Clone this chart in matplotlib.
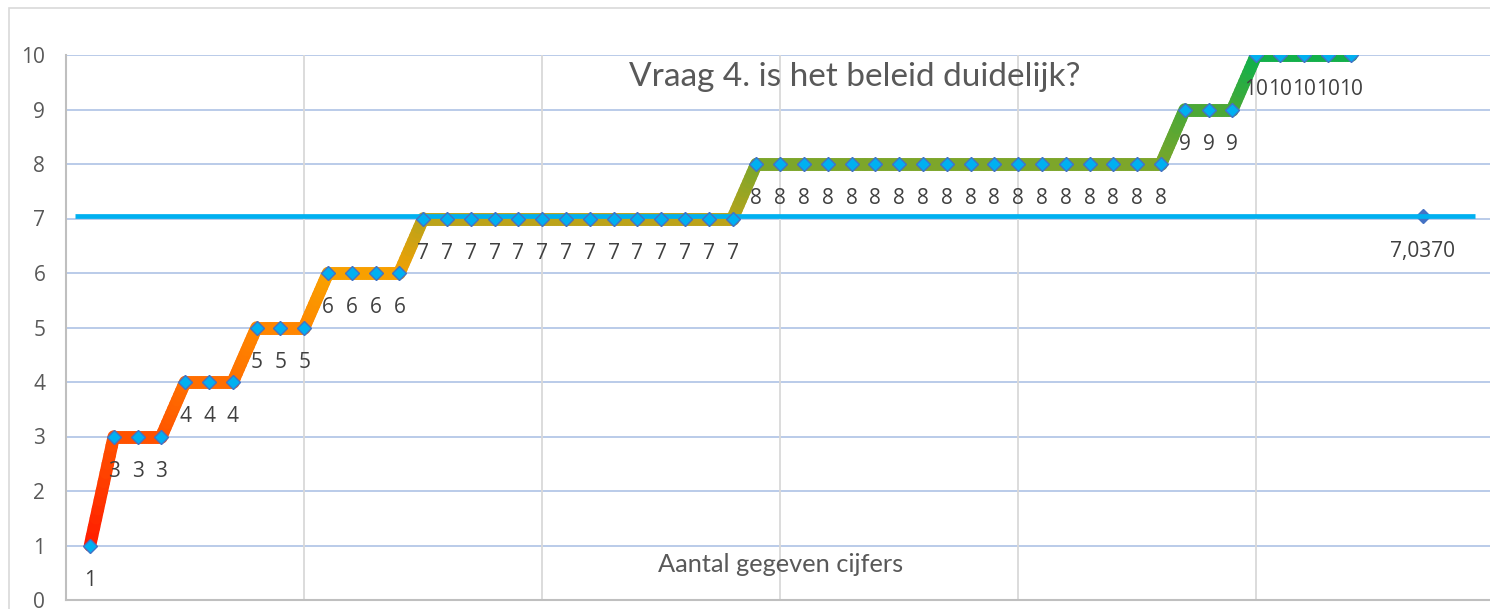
import numpy as np
import matplotlib
matplotlib.use("Agg")
import matplotlib.pyplot as plt
from matplotlib.collections import LineCollection
from matplotlib.colors import LinearSegmentedColormap, to_rgb
from matplotlib.patches import Rectangle

# ---- data ----
values = [1, 3, 3, 3, 4, 4, 4, 5, 5, 5, 6, 6, 6, 6,
          7, 7, 7, 7, 7, 7, 7, 7, 7, 7, 7, 7, 7, 7,
          8, 8, 8, 8, 8, 8, 8, 8, 8, 8, 8, 8, 8, 8, 8, 8, 8, 8,
          9, 9, 9,
          10, 10, 10, 10, 10]
x_pos = list(range(1, len(values) + 1))
avg_value = 380 / 54          # 7,0370
avg_x = 57
avg_line_x = [0.37, 59.2]
title = "Vraag 4. is het beleid duidelijk?"
xlabel = "Aantal gegeven cijfers"
y_ticks = list(range(0, 11))

# ---- figure ----
W, H, DPI = 1490, 609, 100
fig = plt.figure(figsize=(W / DPI, H / DPI), dpi=DPI)
fig.patch.set_facecolor("white")

# outer chart border
fig.patches.append(Rectangle((9 / W, -0.1), 1.2, (609 - 8) / H + 0.1,
                             transform=fig.transFigure, fill=False,
                             edgecolor="#D9D9D9", linewidth=1.2))

ax_left, ax_bottom = 66.2 / W, 9 / H
ax = fig.add_axes([ax_left, ax_bottom, 1 - ax_left, 545 / H])
ax.set_xlim(0, (W - 66.2) / 23.8)
ax.set_ylim(0, 10)

# gridlines
for y in y_ticks[1:]:
    ax.axhline(y, color="#B4C7E7", linewidth=1.3, zorder=0)
for xv in range(10, 60, 10):
    ax.axvline(xv, color="#D9D9D9", linewidth=1.3, zorder=0)

for s in ["top", "right"]:
    ax.spines[s].set_visible(False)
for s in ["left", "bottom"]:
    ax.spines[s].set_color("#BFBFBF")
    ax.spines[s].set_linewidth(1.5)
ax.set_xticks([])
ax.set_yticks(y_ticks)
ax.tick_params(axis="y", length=0, pad=15, labelsize=15, labelcolor="#595959")
for lab in ax.get_yticklabels():
    lab.set_family(["Open Sans", "DejaVu Sans"])

# gradient line
stops = [(1, "#FF1A00"), (3, "#FF5200"), (4, "#FF6E00"), (5, "#FF8600"),
         (6, "#F9A000"), (7, "#BCA31A"), (8, "#7EA62A"), (9, "#4DA836"),
         (10, "#12B04A")]
cmap = LinearSegmentedColormap.from_list(
    "g", [((v - 1) / 9, to_rgb(c)) for v, c in stops])

segs, cols = [], []
xs = np.array(x_pos, float)
ys = np.array(values, float)
for i in range(len(xs) - 1):
    n = 12
    tx = np.linspace(xs[i], xs[i + 1], n + 1)
    ty = np.linspace(ys[i], ys[i + 1], n + 1)
    for k in range(n):
        segs.append([(tx[k], ty[k]), (tx[k + 1], ty[k + 1])])
        cols.append(cmap(((ty[k] + ty[k + 1]) / 2 - 1) / 9))
lc = LineCollection(segs, colors=cols, linewidths=9, capstyle="round",
                    joinstyle="round", zorder=3)
ax.add_collection(lc)

# average line
ax.plot(avg_line_x, [avg_value, avg_value], color="#00B0F0", linewidth=3.4,
        solid_capstyle="butt", zorder=4)

# markers
ax.plot(xs, ys, linestyle="none", marker="D", markersize=7.5,
        markerfacecolor="#00B0F0", markeredgecolor="#4472C4",
        markeredgewidth=1.0, zorder=5)
ax.plot([avg_x], [avg_value], linestyle="none", marker="D", markersize=7.5,
        markerfacecolor="#4472C4", markeredgecolor="#4472C4", zorder=3.5)

# data labels
lab_font = ["Open Sans", "DejaVu Sans"]
for xv, yv in zip(xs, ys):
    ax.annotate(f"{int(yv)}", (xv, yv), xytext=(0, -25),
                textcoords="offset points", ha="center", va="center",
                fontsize=15, color="#404040", family=lab_font, zorder=6)
ax.annotate(f"{avg_value:.4f}".replace(".", ","), (avg_x, avg_value),
            xytext=(0, -25), textcoords="offset points", ha="center",
            va="center", fontsize=15, color="#404040", family=lab_font,
            zorder=6)

# titles
fig.text(855 / W, 1 - 77 / H, title, ha="center", va="center",
         fontsize=24, color="#595959", family=["Lato", "DejaVu Sans"])
fig.text(781 / W, 1 - 565 / H, xlabel, ha="center", va="center",
         fontsize=18.3, color="#595959", family=["Lato", "DejaVu Sans"])

fig.savefig("out.png", dpi=DPI)
